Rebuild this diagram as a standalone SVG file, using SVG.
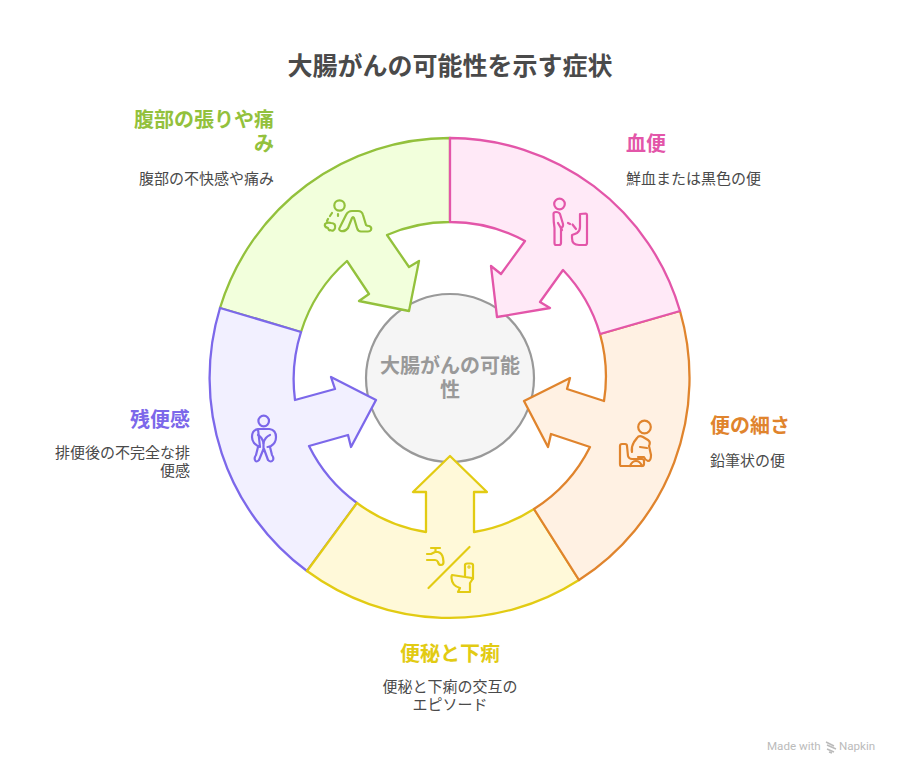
<svg xmlns="http://www.w3.org/2000/svg" width="900" height="774" viewBox="0 0 900 774">
<style>
text{font-family:"Noto Sans CJK JP","Noto Sans",sans-serif}
.t{font-weight:700;font-size:20px}
.d{font-size:15px;fill:#4a4a4a}
.seg{stroke-width:2.300;stroke-linejoin:round}
.ic{fill:none;stroke-width:2.200;stroke-linecap:round;stroke-linejoin:round}
.w{font-size:11.600px;fill:#bbb;font-family:Roboto,"Liberation Sans",sans-serif}
</style>
<rect width="900" height="774" fill="#fff"/>
<text id="title" x="450" y="75" text-anchor="middle" font-size="25" font-weight="700" fill="#4a4a4a">大腸がんの可能性を示す症状</text>
<circle id="center-disc" cx="450" cy="378" r="84" fill="#f5f5f5" stroke="#999" stroke-width="2.200"/>
<g id="connectors">
<path id="seg-green" class="seg" fill="#f2ffdc" stroke="#93c13c" d="M450 138A240 240 0 0 0 220 308L301 332A156 156 0 0 1 347 261L369 294L359 301L409 311L419 261L409 267L387 235A156 156 0 0 1 450 222Z"/>
<path id="seg-purple" class="seg" fill="#f2f0ff" stroke="#7c68ea" d="M220 308A240 240 0 0 0 307 571L357 503A156 156 0 0 1 309 446L348 435L351 447L376 400L331 377L335 389L295 400A156 156 0 0 1 301 332Z"/>
<path id="seg-yellow" class="seg" fill="#fff9d9" stroke="#e2cb13" d="M307 571A240 240 0 0 0 579 580L534 509A156 156 0 0 1 474 532L474 492L487 492L450 456L413 492L426 492L426 532A156 156 0 0 1 357 503Z"/>
<path id="seg-orange" class="seg" fill="#fff1e3" stroke="#e0842d" d="M579 580A240 240 0 0 0 680 311L600 334A156 156 0 0 1 604 401L567 389L570 378L524 401L548 447L551 434L590 447A156 156 0 0 1 534 509Z"/>
<path id="seg-pink" class="seg" fill="#ffe9f7" stroke="#e356a9" d="M450 138A240 240 0 0 1 680 311L600 334A156 156 0 0 0 563 270L540 302L550 308L497 317L491 266L501 274L525 241A156 156 0 0 0 450 222Z"/>
</g>
<g id="center">
<text class="t" x="450" y="373" text-anchor="middle" fill="#999">大腸がんの可能</text>
<text class="t" x="450" y="397" text-anchor="middle" fill="#999">性</text>
</g>
<g id="node-green">
<text class="t" x="274" y="127" text-anchor="end" fill="#93c13c">腹部の張りや痛</text>
<text class="t" x="274" y="151" text-anchor="end" fill="#93c13c">み</text>
<text class="d" x="274" y="184" text-anchor="end">腹部の不快感や痛み</text>
<g class="ic" stroke="#93c13c">
<circle cx="339.500" cy="205.500" r="5.200"/>
<path d="M340 227L346 215Q348 211 352 211L358 211Q362 211 363 215L366 225Q367 226 369 226Q372 227 371 230Q370 231.500 368 231.500L361 231.500Q358 231.500 357 228L354 218Q353 216 352 218L348 228Q345 232 341 231Q338 230 340 227Z"/>
<path d="M325 224Q327 222 331 223Q336 223 335 228Q334 232 330 230Q329 231 328 228Q324 227 325 224Z"/>
<path d="M332 213L330 216M328 219L327 221M338 214L338 216"/>
</g>
</g>
<g id="node-pink">
<text class="t" x="626" y="151" fill="#e356a9">血便</text>
<text class="d" x="626" y="184">鮮血または黒色の便</text>
<g class="ic" stroke="#e356a9">
<circle cx="559.500" cy="204" r="5.300"/>
<path d="M553.500 214Q553.500 212 556 212Q559 212 560 214L563 224Q563.500 227 561 228L561 243Q561 245 559 245L556 245Q554.500 245 554.500 243L554.500 228Q553.500 222 553.500 214Z"/>
<path d="M558 223L562 230"/>
<path d="M580 214L586 213.500Q587 213.500 587 215L587 243Q587 245 585 245L579 245Q572 245 572 238L572 235Q575 234 577 233Q580 231 580 227Z"/>
<path d="M568 223L570 224M572.500 224.500L576 229"/>
</g>
</g>
<g id="node-orange">
<text class="t" x="710" y="433" fill="#e0842d">便の細さ</text>
<text class="d" x="710" y="466">鉛筆状の便</text>
<g class="ic" stroke="#e0842d">
<circle cx="644.500" cy="427" r="6.300"/>
<path d="M632 452Q631 447 634 442L637 438Q639 435 643 437L648 440Q651 442 649 446L651 455Q651 461 648 461Q645 460 644 457L638 457M640 447L647 448"/>
<path d="M627 466L621 466Q620 466 620 464L620 446Q620 444 622 444L625 444Q627 444 627 446L628 456Q629 459 632 459L642 459Q644 459 644 461L644 464Q644 466 642 466L627 466M630 466Q632 461 636 461Q640 461 642 466"/>
</g>
</g>
<g id="node-yellow">
<text class="t" x="450" y="661" text-anchor="middle" fill="#e2cb13">便秘と下痢</text>
<text class="d" x="450" y="692" text-anchor="middle">便秘と下痢の交互の</text>
<text class="d" x="450" y="710" text-anchor="middle">エピソード</text>
<g class="ic" stroke="#e2cb13">
<path d="M428.500 588L469.500 547"/>
<path d="M431 548L440 548M435.500 548L435.500 552M427 554L431 554L435 552L438 552Q442 553 443 558L443.500 562Q443.500 565 441 565Q438.500 565 438 562Q437 560 435 560L427 560"/>
<path d="M465 576L465 565Q465 563.500 467 563.500L471 563.500Q473 563.500 473 565L473 579M452 575L472 578L472 580L470 583L470 592L458 592L460 588Q452 586 451.500 578Q451.500 575 452 575Z"/>
<circle cx="469" cy="567" r="0.600"/>
</g>
</g>
<g id="node-purple">
<text class="t" x="190" y="427" text-anchor="end" fill="#7c68ea">残便感</text>
<text class="d" x="190" y="458" text-anchor="end">排便後の不完全な排</text>
<text class="d" x="190" y="476" text-anchor="end">便感</text>
<g class="ic" stroke="#7c68ea">
<circle cx="263.700" cy="421" r="5.300"/>
<path d="M258 429L269.500 429Q276 430 276 437Q276 443 271 446Q268 447 267.500 447M260 447Q257 446 254 443Q252 440 252 437Q252 430 258 429Z"/>
<path d="M258 435Q262 437 263.500 443Q265 437 270 435"/>
<path d="M263.500 443L263.500 449L259 460Q256 463 255 460Q254 458 256 455L258 447M264 449L268 460Q271 463 273 460Q274 458 272 455L270 447"/>
</g>
</g>
<g id="watermark">
<text class="w" x="767" y="750">Made with</text>
<path d="M826 742L834 746M827 745L836 749M827 749L834 752M829 752L832 753" stroke="#bbb" stroke-width="1.500" fill="none"/>
<text class="w" x="839" y="750">Napkin</text>
</g>
</svg>
